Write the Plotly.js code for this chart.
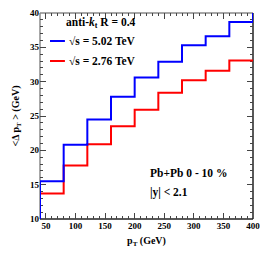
<!DOCTYPE html>
<html><head><meta charset="utf-8">
<script src="https://cdn.plot.ly/plotly-3.0.1.min.js"></script>
<style>html,body{margin:0;padding:0;background:#fff;}</style>
</head><body><div id="chart" style="width:267px;height:259px;"></div>
<script>
// bin edges (GeV); first and last bins are under/overflow just outside the axis range
const binEdges = [0, 40, 80, 120, 160, 200, 240, 280, 320, 360, 400, 440];
// <Δ pT> per bin, sqrt(s) = 5.02 TeV (bins 0-40 ... 400-440)
const blueValues = [9, 15.5, 20.8, 24.5, 27.8, 30.6, 32.9, 35.3, 36.6, 38.7, 41];
// <Δ pT> per bin, sqrt(s) = 2.76 TeV (bins 0-40 ... 360-400)
const redValues = [9, 13.7, 17.8, 20.9, 23.5, 25.9, 28.4, 30.2, 31.6, 33.1];
const seriesNames = ["√s = 5.02 TeV", "√s = 2.76 TeV"];
const seriesColors = ["#0000ff", "#ff0000"];
const headerText = "anti-<i>k</i><sub>t</sub> R = 0.4";
const infoLines = ["Pb+Pb 0 - 10 %", "|y| &lt; 2.1"];

function stepXY(vals) {
  const x = binEdges.slice(0, vals.length + 1);
  const y = vals.concat([vals[vals.length - 1]]);
  return {x, y};
}

const FONT = "Liberation Serif, Times New Roman, serif";
const r = stepXY(redValues), b = stepXY(blueValues);
const traces = [
  {x: r.x, y: r.y, mode: "lines", line: {shape: "hv", color: seriesColors[1], width: 2}, name: seriesNames[1], hoverinfo: "skip"},
  {x: b.x, y: b.y, mode: "lines", line: {shape: "hv", color: seriesColors[0], width: 2}, name: seriesNames[0], hoverinfo: "skip"}
];

const axisCommon = {
  showgrid: false, zeroline: false, showline: false,
  mirror: "ticks", ticks: "inside", ticklen: 6, tickwidth: 1, tickcolor: "#444",
  tickfont: {family: FONT, size: 9, color: "#000", weight: "bold"},
  layer: "below traces"
};

function frameLine(x0, y0, x1, y1, color) {
  return {type: "line", xref: "paper", yref: "paper", x0, y0, x1, y1, layer: "below", line: {color, width: 1.5}};
}

const layout = {
  width: 267, height: 259,
  margin: {l: 40, r: 14, t: 13, b: 40},
  paper_bgcolor: "#fff", plot_bgcolor: "#fff",
  showlegend: false,
  font: {family: FONT, weight: "bold"},
  xaxis: Object.assign({}, axisCommon, {
    range: [40, 400], tick0: 0, dtick: 50,
    minor: {dtick: 10, ticks: "inside", ticklen: 3, tickcolor: "#444"},
    title: {text: "p<sub>T</sub> (GeV)", standoff: 6, font: {family: FONT, size: 10, weight: "bold", color: "#000"}}
  }),
  yaxis: Object.assign({}, axisCommon, {
    range: [10, 40], tick0: 0, dtick: 5,
    minor: {dtick: 1, ticks: "inside", ticklen: 3, tickcolor: "#444"},
    title: {text: "&lt;Δ p<sub>T</sub> &gt; (GeV)", standoff: 8, font: {family: FONT, size: 10, weight: "bold", color: "#000"}}
  }),
  shapes: [
    frameLine(0, 0, 0, 1, "#8a8a8a"),
    frameLine(0, 1, 1, 1, "#8a8a8a"),
    frameLine(1, 0, 1, 1, "#222"),
    frameLine(0, 0, 1, 0, "#222"),
    {type: "line", xref: "paper", yref: "paper", x0: 0.047, x1: 0.117, y0: 0.864, y1: 0.864, line: {color: seriesColors[0], width: 2}},
    {type: "line", xref: "paper", yref: "paper", x0: 0.047, x1: 0.117, y0: 0.767, y1: 0.767, line: {color: seriesColors[1], width: 2}}
  ],
  annotations: [
    {xref: "paper", yref: "paper", x: 0.113, y: 0.951, xanchor: "left", yanchor: "middle", showarrow: false, text: headerText, font: {family: FONT, size: 11.5, weight: "bold", color: "#000"}},
    {xref: "paper", yref: "paper", x: 0.127, y: 0.864, xanchor: "left", yanchor: "middle", showarrow: false, text: seriesNames[0], font: {family: FONT, size: 11.5, weight: "bold", color: "#000"}},
    {xref: "paper", yref: "paper", x: 0.127, y: 0.767, xanchor: "left", yanchor: "middle", showarrow: false, text: seriesNames[1], font: {family: FONT, size: 11.5, weight: "bold", color: "#000"}},
    {xref: "paper", yref: "paper", x: 0.507, y: 0.223, xanchor: "left", yanchor: "middle", showarrow: false, text: infoLines[0], font: {family: FONT, size: 11.5, weight: "bold", color: "#000"}},
    {xref: "paper", yref: "paper", x: 0.507, y: 0.131, xanchor: "left", yanchor: "middle", showarrow: false, text: infoLines[1], font: {family: FONT, size: 11.5, weight: "bold", color: "#000"}}
  ]
};

Plotly.newPlot("chart", traces, layout, {displayModeBar: false, staticPlot: true});
</script>
</body></html>
